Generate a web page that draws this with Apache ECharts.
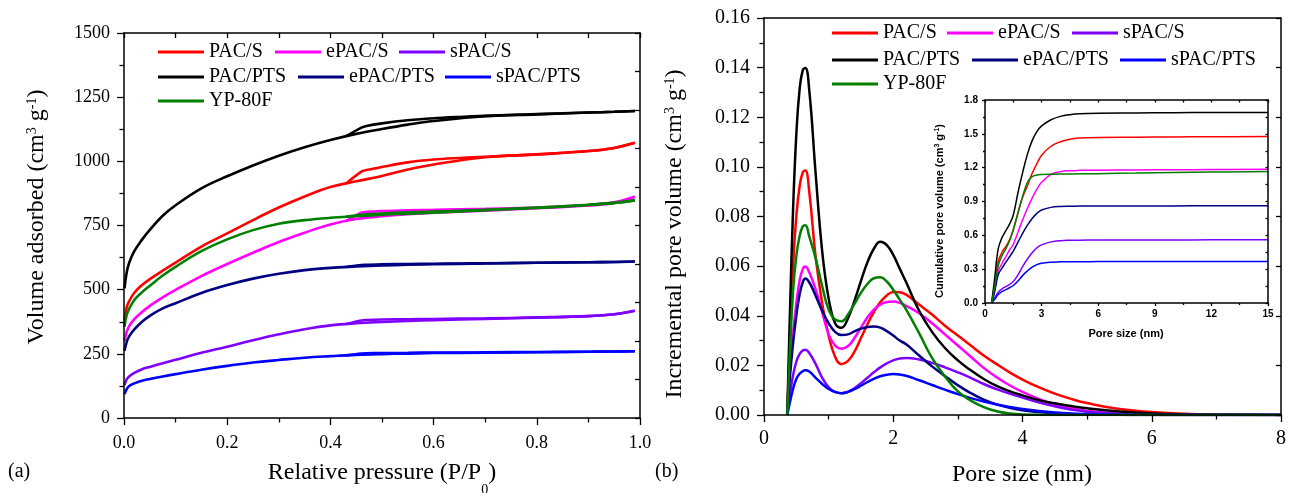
<!DOCTYPE html>
<html>
<head>
<meta charset="utf-8">
<script src="https://cdn.jsdelivr.net/npm/echarts@6.0.0/dist/echarts.min.js"></script>
<style>
  html, body { margin: 0; padding: 0; background: #ffffff; }
  #chart { width: 1295px; height: 493px; }
</style>
</head>
<body>
<div id="chart"></div>
<script>
// ---------- samples ----------
const sampleNames = ['PAC/S', 'ePAC/S', 'sPAC/S', 'PAC/PTS', 'ePAC/PTS', 'sPAC/PTS', 'YP-80F'];
const sampleColors = ['#ff0000', '#ff00ff', '#8000ff', '#000000', '#000080', '#0000ff', '#008000'];

// ---------- (a) N2 isotherms, relative pressure P/P0 ----------
const adsPressure = [0.001, 0.005, 0.01, 0.02, 0.035, 0.05, 0.075, 0.1, 0.15, 0.2, 0.25, 0.3, 0.35, 0.4, 0.45, 0.5, 0.55, 0.6, 0.7, 0.8, 0.9, 0.95, 0.99];
const desPressure = [0.43, 0.46, 0.47, 0.5, 0.55, 0.6, 0.65, 0.7, 0.8, 0.9, 0.95, 0.99];

const adsPAC_S    = [380, 430, 455, 488, 518, 541, 574, 605, 668, 719, 771, 820, 863, 900, 922, 943, 968, 988, 1016, 1027, 1040, 1052, 1072];
const desPAC_S    = [913, 960, 966, 978, 996, 1007, 1013, 1018, 1027, 1040, 1052, 1072];
const adsEPAC_S   = [300, 335, 358, 385, 413, 437, 470, 499, 553, 600, 644, 686, 722, 754, 775, 786, 794, 800, 808, 817, 828, 838, 862];
const desEPAC_S   = [767, 800, 803, 806, 809, 811, 813, 815, 820, 830, 840, 862];
const adsSPAC_S   = [128, 150, 162, 176, 190, 199, 213, 227, 254, 278, 303, 326, 346, 361, 369, 374, 378, 381, 386, 391, 397, 404, 418];
const desSPAC_S   = [366, 380, 382, 384, 385, 386, 387, 388, 392, 397, 404, 418];
const adsPAC_PTS  = [505, 565, 605, 650, 695, 733, 788, 829, 895, 942, 984, 1022, 1055, 1083, 1107, 1126, 1143, 1157, 1176, 1183, 1190, 1193, 1196];
const desPAC_PTS  = [1097, 1131, 1138, 1148, 1160, 1168, 1173, 1177, 1184, 1190, 1193, 1196];
const adsEPAC_PTS = [262, 295, 318, 345, 375, 398, 427, 447, 487, 518, 543, 562, 576, 585, 590, 594, 597, 599, 602, 605, 607, 608, 610];
const desEPAC_PTS = [588, 596, 597, 599, 600, 601, 602, 603, 605, 607, 608, 610];
const adsSPAC_PTS = [93, 112, 125, 135, 145, 152, 162, 171, 188, 203, 216, 226, 235, 241, 246, 249, 251, 253, 254, 256, 258, 259, 260];
const desSPAC_PTS = [244, 251, 252, 253, 254, 255, 255, 256, 257, 258, 259, 260];
const adsYP80F    = [355, 400, 425, 460, 490, 515, 555, 589, 650, 696, 732, 757, 771, 780, 786, 792, 796, 800, 810, 818, 830, 838, 848];
const desYP80F    = [784, 792, 794, 797, 801, 804, 807, 811, 820, 831, 838, 848];

// ---------- (b) incremental pore volume vs pore size (nm) ----------
const poreSize = [0.36, 0.4, 0.45, 0.5, 0.55, 0.6, 0.64, 0.7, 0.8, 0.9, 1.0, 1.1, 1.2, 1.3, 1.4, 1.5, 1.6, 1.7, 1.8, 1.9, 2.0, 2.1, 2.2, 2.4, 2.6, 2.8, 3.0, 3.2, 3.4, 3.6, 3.8, 4.0, 4.25, 4.5, 4.75, 5.0, 5.5, 6.0, 6.5, 7.0, 8.0];

const incPAC_S    = [0, 0.03, 0.06, 0.08, 0.092, 0.0978, 0.0985, 0.090, 0.0635, 0.045, 0.032, 0.0235, 0.0205, 0.0218, 0.0255, 0.031, 0.0365, 0.0415, 0.0455, 0.0482, 0.0496, 0.0495, 0.0485, 0.0445, 0.0405, 0.036, 0.032, 0.028, 0.024, 0.0205, 0.0172, 0.0143, 0.0112, 0.0086, 0.0065, 0.0048, 0.0024, 0.0012, 0.0005, 0.0002, 0];
const incEPAC_S   = [0, 0.02, 0.033, 0.045, 0.054, 0.0588, 0.0598, 0.0575, 0.0505, 0.0415, 0.0325, 0.028, 0.0267, 0.0278, 0.031, 0.0352, 0.0393, 0.0425, 0.0445, 0.0455, 0.0457, 0.0452, 0.044, 0.041, 0.037, 0.0325, 0.028, 0.0235, 0.019, 0.0152, 0.012, 0.0093, 0.0065, 0.0043, 0.0027, 0.0016, 0.0006, 0.0002, 0.0001, 0, 0];
const incSPAC_S   = [0, 0.008, 0.016, 0.0215, 0.0245, 0.026, 0.0263, 0.025, 0.0205, 0.015, 0.0112, 0.0092, 0.0088, 0.0094, 0.0108, 0.0128, 0.015, 0.0172, 0.0192, 0.0208, 0.022, 0.0228, 0.023, 0.0224, 0.021, 0.0192, 0.0172, 0.015, 0.0125, 0.0104, 0.0086, 0.007, 0.0051, 0.0035, 0.0022, 0.0013, 0.0004, 0.0001, 0, 0, 0];
const incPAC_PTS  = [0, 0.04, 0.083, 0.113, 0.131, 0.139, 0.1398, 0.131, 0.097, 0.066, 0.047, 0.037, 0.0352, 0.039, 0.046, 0.054, 0.0615, 0.067, 0.0698, 0.0685, 0.0645, 0.059, 0.0535, 0.042, 0.0335, 0.027, 0.022, 0.018, 0.0145, 0.0117, 0.0096, 0.0079, 0.006, 0.0047, 0.0036, 0.0027, 0.0014, 0.0006, 0.0002, 0.0001, 0];
const incEPAC_PTS = [0, 0.015, 0.029, 0.040, 0.0485, 0.0535, 0.055, 0.0535, 0.048, 0.042, 0.037, 0.0335, 0.0322, 0.0325, 0.0337, 0.0348, 0.0355, 0.0357, 0.0352, 0.0338, 0.032, 0.030, 0.0285, 0.024, 0.0196, 0.0157, 0.012, 0.0088, 0.0062, 0.0043, 0.0029, 0.0019, 0.0012, 0.0007, 0.0004, 0.0002, 0.0001, 0, 0, 0, 0];
const incSPAC_PTS = [0, 0.005, 0.0105, 0.0145, 0.0166, 0.0177, 0.018, 0.0175, 0.015, 0.0125, 0.0105, 0.0093, 0.0088, 0.0093, 0.0104, 0.0118, 0.0133, 0.0146, 0.0156, 0.0162, 0.0165, 0.0163, 0.0158, 0.014, 0.0121, 0.0102, 0.0084, 0.0068, 0.0054, 0.0042, 0.0032, 0.0024, 0.0016, 0.001, 0.0006, 0.0004, 0.0001, 0, 0, 0, 0];
const incYP80F    = [0, 0.025, 0.05, 0.064, 0.072, 0.076, 0.0765, 0.072, 0.063, 0.052, 0.0425, 0.0385, 0.0378, 0.0405, 0.0448, 0.0492, 0.0528, 0.0551, 0.0555, 0.0538, 0.0505, 0.0465, 0.0425, 0.033, 0.023, 0.0155, 0.0095, 0.0058, 0.0032, 0.0015, 0.0006, 0.0002, 0.0001, 0, 0, 0, 0, 0, 0, 0, 0];

// ---------- inset: cumulative pore volume ----------
const cumSize = [0.35, 0.5, 0.7, 0.9, 1.1, 1.3, 1.5, 1.75, 2.0, 2.25, 2.5, 2.75, 3.0, 3.5, 4.0, 4.5, 5.0, 6.0, 8.0, 10, 12, 15];

const cumPAC_S    = [0, 0.15, 0.37, 0.45, 0.5, 0.56, 0.65, 0.8, 0.94, 1.04, 1.15, 1.235, 1.31, 1.39, 1.43, 1.452, 1.462, 1.468, 1.47, 1.472, 1.474, 1.476];
const cumEPAC_S   = [0, 0.1, 0.28, 0.35, 0.41, 0.47, 0.52, 0.63, 0.74, 0.84, 0.93, 1.01, 1.07, 1.14, 1.165, 1.173, 1.176, 1.178, 1.18, 1.181, 1.183, 1.185];
const cumSPAC_S   = [0, 0.04, 0.095, 0.125, 0.145, 0.165, 0.19, 0.25, 0.325, 0.39, 0.445, 0.49, 0.515, 0.542, 0.553, 0.556, 0.557, 0.558, 0.558, 0.559, 0.56, 0.56];
const cumPAC_PTS  = [0, 0.2, 0.48, 0.58, 0.64, 0.7, 0.78, 0.98, 1.16, 1.32, 1.44, 1.52, 1.57, 1.625, 1.655, 1.67, 1.678, 1.683, 1.685, 1.687, 1.689, 1.69];
const cumEPAC_PTS = [0, 0.09, 0.25, 0.31, 0.36, 0.41, 0.46, 0.54, 0.62, 0.69, 0.75, 0.795, 0.825, 0.848, 0.856, 0.858, 0.859, 0.86, 0.86, 0.861, 0.862, 0.862];
const cumSPAC_PTS = [0, 0.03, 0.075, 0.1, 0.118, 0.135, 0.155, 0.195, 0.245, 0.285, 0.318, 0.34, 0.353, 0.362, 0.365, 0.366, 0.366, 0.367, 0.367, 0.367, 0.367, 0.367];
const cumYP80F    = [0, 0.13, 0.33, 0.42, 0.48, 0.55, 0.65, 0.8, 0.95, 1.07, 1.12, 1.135, 1.14, 1.142, 1.143, 1.144, 1.145, 1.147, 1.152, 1.157, 1.161, 1.165];

const adsBySample = [adsPAC_S, adsEPAC_S, adsSPAC_S, adsPAC_PTS, adsEPAC_PTS, adsSPAC_PTS, adsYP80F];
const desBySample = [desPAC_S, desEPAC_S, desSPAC_S, desPAC_PTS, desEPAC_PTS, desSPAC_PTS, desYP80F];
const incBySample = [incPAC_S, incEPAC_S, incSPAC_S, incPAC_PTS, incEPAC_PTS, incSPAC_PTS, incYP80F];
const cumBySample = [cumPAC_S, cumEPAC_S, cumSPAC_S, cumPAC_PTS, cumEPAC_PTS, cumSPAC_PTS, cumYP80F];

// ---------- layout ----------
const SERIF = 'Liberation Serif';
const SANS = 'Liberation Sans';
const legendSpotsA = [[158, 52], [275, 52], [399, 52], [158, 77], [298, 77], [445, 77], [158, 101]];
const legendSpotsB = [[832, 33], [947, 33], [1072, 33], [832, 60], [972, 60], [1120, 60], [832, 84]];

const zip = (xs, ys) => xs.map((x, i) => [x, ys[i]]);
const black = '#000000';

function mainAxis(opts) {
  return {
    type: 'value',
    gridIndex: opts.grid,
    position: opts.position,
    min: opts.min, max: opts.max, interval: opts.interval,
    splitLine: { show: false },
    axisLine: { show: true, onZero: false, lineStyle: { color: black, width: 1.5 } },
    axisTick: { show: opts.ticks !== false, inside: !!opts.inside, length: opts.tickLen || 7, lineStyle: { color: black, width: 1.3 } },
    minorTick: { show: !!opts.minor, splitNumber: 2, length: opts.minorLen || 4.5, lineStyle: { color: black, width: 1.3 } },
    axisLabel: opts.label ? {
      show: true, color: black, fontFamily: opts.font || SERIF, fontSize: opts.fontSize || 18,
      fontWeight: opts.bold ? 'bold' : 'normal', margin: opts.margin || 10,
      formatter: opts.formatter
    } : { show: false },
    z: opts.z || 3
  };
}

const xAxes = [
  mainAxis({ grid: 0, position: 'bottom', min: 0, max: 1, interval: 0.2, minor: true, label: true, fontSize: 18, margin: 16, formatter: v => v.toFixed(1) }),
  mainAxis({ grid: 0, position: 'top', min: 0, max: 1, interval: 0.1, inside: true, tickLen: 5 }),
  mainAxis({ grid: 1, position: 'bottom', min: 0, max: 8, interval: 2, minor: true, label: true, fontSize: 20, margin: 14, formatter: v => String(Math.round(v)) }),
  mainAxis({ grid: 1, position: 'top', min: 0, max: 8, interval: 1, ticks: false }),
  mainAxis({ grid: 2, position: 'bottom', min: 0, max: 15, interval: 3, minor: true, label: true, font: SANS, bold: true, fontSize: 10, margin: 6, tickLen: 3, minorLen: 2, formatter: v => String(Math.round(v)), z: 6 }),
  mainAxis({ grid: 2, position: 'top', min: 0, max: 15, interval: 1.5, inside: true, tickLen: 2.5, z: 6 })
];
const yAxes = [
  mainAxis({ grid: 0, position: 'left', min: 0, max: 1500, interval: 250, minor: true, label: true, fontSize: 18, margin: 14, formatter: v => String(Math.round(v)) }),
  mainAxis({ grid: 0, position: 'right', min: 0, max: 1500, interval: 150, inside: true, tickLen: 5 }),
  mainAxis({ grid: 1, position: 'left', min: 0, max: 0.16, interval: 0.02, minor: true, label: true, fontSize: 20, margin: 14, formatter: v => v.toFixed(2) }),
  mainAxis({ grid: 1, position: 'right', min: 0, max: 0.16, interval: 0.02, inside: true, tickLen: 5 }),
  mainAxis({ grid: 2, position: 'left', min: 0, max: 1.8, interval: 0.3, minor: true, label: true, font: SANS, bold: true, fontSize: 10, margin: 7, tickLen: 3, minorLen: 2, formatter: v => v.toFixed(1), z: 6 }),
  mainAxis({ grid: 2, position: 'right', min: 0, max: 1.8, interval: 0.15, inside: true, tickLen: 2.5, z: 6 })
];

const series = [];
sampleNames.forEach((name, i) => {
  const lineStyle = { color: sampleColors[i], width: 2.6 };
  series.push({
    name, type: 'line', xAxisIndex: 0, yAxisIndex: 0, showSymbol: false, symbol: 'none',
    smooth: 0.4, color: sampleColors[i], lineStyle,
    data: zip(adsPressure, adsBySample[i]), z: 2
  });
  series.push({
    name, type: 'line', xAxisIndex: 0, yAxisIndex: 0, showSymbol: false, symbol: 'none',
    smooth: 0.3, color: sampleColors[i], lineStyle,
    data: zip(desPressure, desBySample[i]), z: 2
  });
});
sampleNames.forEach((name, i) => {
  series.push({
    name, type: 'line', xAxisIndex: 2, yAxisIndex: 2, showSymbol: false, symbol: 'none',
    smooth: 0.45, color: sampleColors[i],
    lineStyle: { color: sampleColors[i], width: 2.5 },
    data: zip(poreSize, incBySample[i]), z: 2
  });
});
sampleNames.forEach((name, i) => {
  series.push({
    name, type: 'line', xAxisIndex: 4, yAxisIndex: 4, showSymbol: false, symbol: 'none',
    smooth: 0.4, color: sampleColors[i],
    lineStyle: { color: sampleColors[i], width: 1.5 },
    data: zip(cumSize, cumBySample[i]), z: 5
  });
});

function legendAt(name, spot) {
  return {
    data: [name], left: spot[0], top: spot[1] - 11, orient: 'horizontal',
    icon: 'rect', itemWidth: 46, itemHeight: 3, padding: 0, selectedMode: false,
    textStyle: { fontFamily: SERIF, fontSize: 20, color: black, lineHeight: 22 }
  };
}
const legends = [];
sampleNames.forEach((n, i) => legends.push(legendAt(n, legendSpotsA[i])));
sampleNames.forEach((n, i) => legends.push(legendAt(n, legendSpotsB[i])));

const titleRich = {
  n: { fontFamily: SERIF, fontSize: 24, color: black, lineHeight: 26, verticalAlign: 'top' },
  sup: { fontFamily: SERIF, fontSize: 14, color: black, lineHeight: 14, verticalAlign: 'top' },
  sub: { fontFamily: SERIF, fontSize: 14, color: black, lineHeight: 14, verticalAlign: 'top', padding: [22, 0, 0, 0] }
};
const insetRich = {
  n: { fontFamily: SANS, fontWeight: 'bold', fontSize: 11, color: black, lineHeight: 12, verticalAlign: 'top' },
  sup: { fontFamily: SANS, fontWeight: 'bold', fontSize: 7, color: black, lineHeight: 7, verticalAlign: 'top' }
};

function label(x, y, text, rich, rotated) {
  return {
    type: 'text', x, y, rotation: rotated ? Math.PI / 2 : 0, z: 10,
    style: { text, rich, align: 'center', verticalAlign: 'middle', fill: black }
  };
}

const graphics = [
  { type: 'text', left: 8, top: 462, z: 10, style: { text: '(a)', font: '20px "Liberation Serif"', fill: black } },
  { type: 'text', left: 655, top: 462, z: 10, style: { text: '(b)', font: '20px "Liberation Serif"', fill: black } },
  label(382, 474, '{n|Relative pressure (P/P}{sub|0}{n|)}', titleRich, false),
  label(38, 217, '{n|Volume adsorbed (cm}{sup|3}{n| g}{sup|-1}{n|)}', titleRich, true),
  label(1022, 476, '{n|Pore size (nm)}', titleRich, false),
  label(676, 234, '{n|Incremental pore volume (cm}{sup|3}{n| g}{sup|-1}{n|)}', titleRich, true),
  label(1126, 334, '{n|Pore size (nm)}', insetRich, false),
  label(940, 211, '{n|Cumulative pore volume (cm}{sup|3}{n| g}{sup|-1}{n|)}', insetRich, true)
];

const chart = echarts.init(document.getElementById('chart'), null, { renderer: 'canvas' });
chart.setOption({
  animation: false,
  backgroundColor: '#ffffff',
  grid: [
    { left: 124, top: 33, width: 516, height: 385, containLabel: false },
    { left: 764, top: 18, width: 517, height: 397, containLabel: false },
    { left: 985, top: 100, width: 283, height: 203, containLabel: false, show: true, backgroundColor: '#ffffff', borderWidth: 0, z: 4 }
  ],
  xAxis: xAxes,
  yAxis: yAxes,
  legend: legends,
  series,
  graphic: graphics
});
</script>
</body>
</html>
